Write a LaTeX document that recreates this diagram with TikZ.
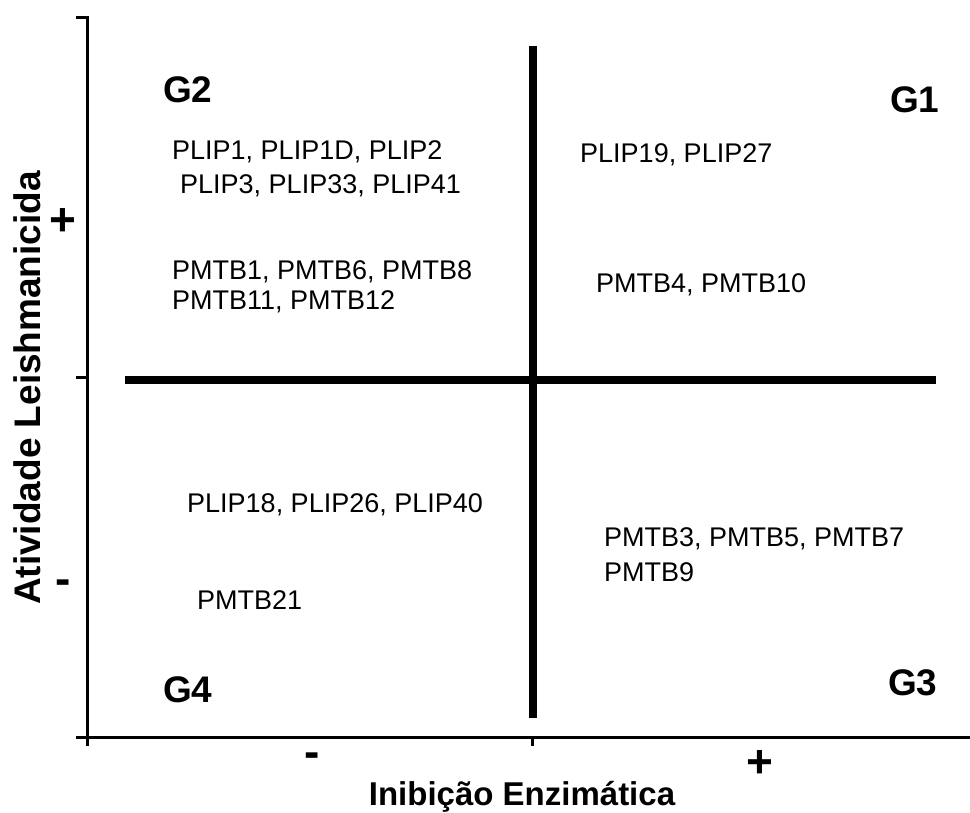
\documentclass[tikz,border=0pt]{standalone}
\usepackage{fontspec}
\setmainfont{Liberation Sans}
\usetikzlibrary{positioning}

\begin{document}
\begin{tikzpicture}[x=1pt,y=-1pt
	,lbl/.style={anchor=west, inner sep=0pt, font=\fontsize{27}{32}\selectfont}
	,grp/.style={anchor=west, inner sep=0pt, font=\fontsize{37}{40}\selectfont\bfseries}
	,sgn/.style={inner sep=0pt, font=\fontsize{46}{50}\selectfont\bfseries}
	,ttl/.style={inner sep=0pt, font=\fontsize{33}{38}\selectfont\bfseries}
	,axis/.style={line width=3pt}
	,quad/.style={line width=8pt}
]
	\useasboundingbox (0,0) rectangle (970,812);

	% axes
	\coordinate (O) at (87,737);
	\coordinate (ytop) at (87,17);
	\coordinate (ymid) at (87,377);
	\coordinate (xend) at (970,737);
	\coordinate (xmid) at (532,737);
	\draw [axis] (O) -- (ytop) -- ++(-11,0);
	\draw [axis] (ymid) -- ++(-11,0);
	\draw [axis] ([xshift=-11]O) -- (xend);
	\draw [axis] (O) -- ++(0,9);
	\draw [axis] (xmid) -- ++(0,9);

	% quadrants
	\coordinate (hl) at (125,380);
	\coordinate (hr) at (936,380);
	\coordinate (vt) at (533,46);
	\coordinate (vb) at (533,718);
	\draw [quad] (hl) -- (hr);
	\draw [quad] (vt) -- (vb);

	% groups
	\node [grp] (G2) at (163,90) {G2};
	\node [grp] (G1) at (890,100) {G1};
	\node [grp] (G4) at (163,690) {G4};
	\node [grp] (G3) at (888,683) {G3};

	% compounds
	\node [lbl] (plip1) at (172,152) {PLIP1, PLIP1D, PLIP2};
	\node [lbl] (plip3) at (180,186) {PLIP3, PLIP33, PLIP41};
	\node [lbl] (pmtb1) at (172,272) {PMTB1, PMTB6, PMTB8};
	\node [lbl] (pmtb11) at (172,302) {PMTB11, PMTB12};
	\node [lbl] (plip19) at (580,155) {PLIP19, PLIP27};
	\node [lbl] (pmtb4) at (596,285) {PMTB4, PMTB10};
	\node [lbl] (plip18) at (187,505) {PLIP18, PLIP26, PLIP40};
	\node [lbl] (pmtb21) at (197,600) {PMTB21};
	\node [lbl] (pmtb3) at (604,539) {PMTB3, PMTB5, PMTB7};
	\node [lbl] (pmtb9) at (604,572) {PMTB9};

	% signs and titles
	\node [sgn] (yplus) at (63,222) {+};
	\node [sgn] (yminus) at (63,587) {-};
	\node [sgn] (xminus) at (312,760) {-};
	\node [sgn] (xplus) at (760,764) {+};
	\node [ttl] (xtitle) at (522,797) {Inibição Enzimática};
	\node [ttl, font=\fontsize{37}{40}\selectfont\bfseries, rotate=90] (ytitle) at (27,388) {Atividade Leishmanicida};
\end{tikzpicture}
\end{document}
